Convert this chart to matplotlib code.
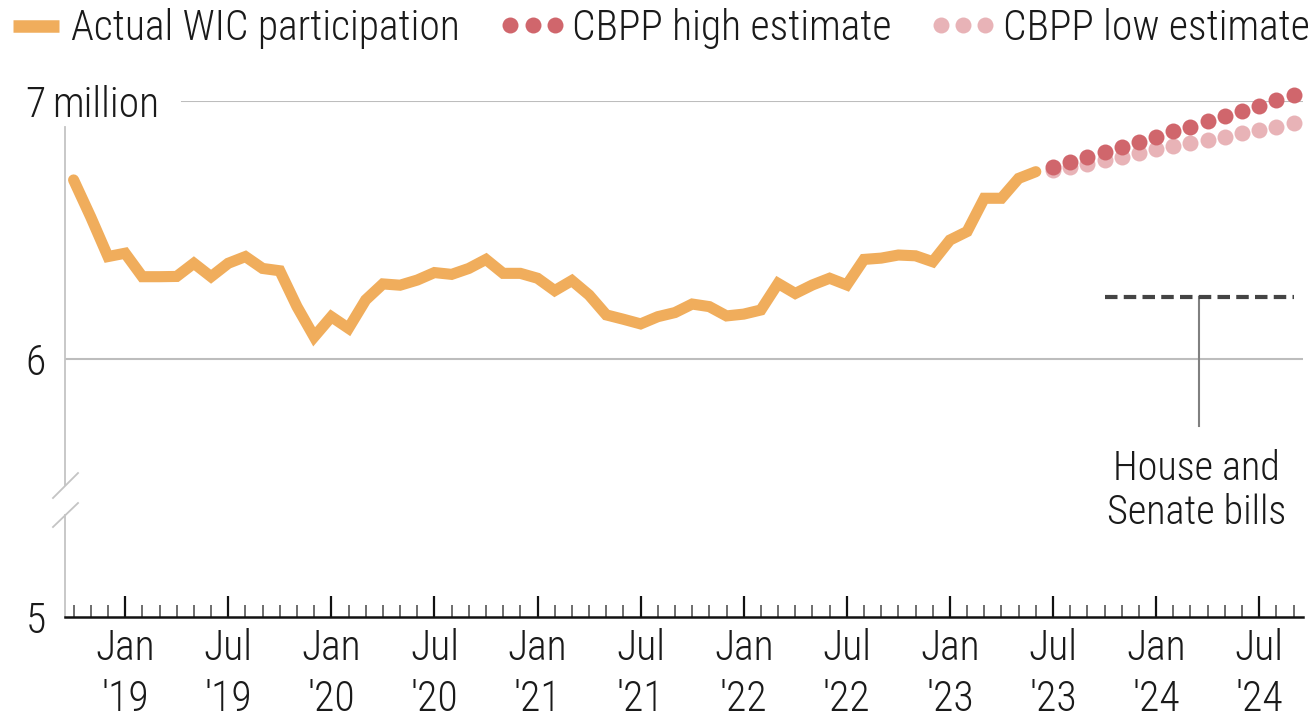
import numpy as np
import matplotlib
matplotlib.use("Agg")
import matplotlib.pyplot as plt
from matplotlib import font_manager
from matplotlib.lines import Line2D

# monthly WIC participation, millions, Oct 2018 .. Jun 2023
actual = [6.694, 6.55, 6.397,
          6.41, 6.319, 6.319, 6.32, 6.371, 6.319, 6.371, 6.397, 6.351, 6.342, 6.203, 6.086,
          6.164, 6.119, 6.229, 6.291, 6.286, 6.306, 6.335, 6.328, 6.351, 6.386, 6.332, 6.332,
          6.313, 6.265, 6.304, 6.248, 6.171, 6.154, 6.136, 6.164, 6.180, 6.213, 6.203, 6.167,
          6.174, 6.190, 6.293, 6.254, 6.287, 6.313, 6.287, 6.386, 6.391, 6.403, 6.400, 6.377,
          6.461, 6.494, 6.623, 6.623, 6.700, 6.726]
# CBPP projections, Jul 2023 .. Sep 2024
high_est = [6.743, 6.762, 6.782, 6.802, 6.821, 6.842, 6.862, 6.882, 6.900, 6.921,
            6.942, 6.963, 6.982, 7.003, 7.023]
low_est = [6.733, 6.743, 6.756, 6.771, 6.784, 6.797, 6.813, 6.826, 6.838, 6.849,
           6.862, 6.875, 6.888, 6.900, 6.914]
bills_level = 6.24
bills_months = [60, 71]  # Oct 2023 .. Sep 2024

tick_months = [3, 9, 15, 21, 27, 33, 39, 45, 51, 57, 63, 69]
tick_labels = ["Jan\n'19", "Jul\n'19", "Jan\n'20", "Jul\n'20", "Jan\n'21", "Jul\n'21",
               "Jan\n'22", "Jul\n'22", "Jan\n'23", "Jul\n'23", "Jan\n'24", "Jul\n'24"]
y_ticks = [5, 6, 7]

orange = "#F0AD5C"
red = "#D0666C"
pink = "#E8B3B7"
ink = "#1a1a1a"

names = {f.name for f in font_manager.fontManager.ttflist}
fam, fs = "Roboto", 26
for cand in ["Roboto Condensed", "Liberation Sans Narrow", "Open Sans Condensed"]:
    if cand in names:
        fam, fs = cand, 30
        break
plt.rcParams["font.family"] = [fam, "DejaVu Sans"]
plt.rcParams["font.weight"] = 300

W, H = 1315, 721
fig = plt.figure(figsize=(W / 100, H / 100), dpi=100)
ax = fig.add_axes([65 / W, (H - 617) / H, (1303 - 65) / W, (617 - 101) / H])

x_act = np.arange(len(actual))
x_est = np.arange(len(actual), len(actual) + len(high_est))

ax.axhline(6, color="#BDBDBD", lw=1.5, zorder=1)
ax.axhline(7, xmin=(182 - 65) / (1303 - 65), xmax=1, color="#BDBDBD", lw=1.5, zorder=1)

ax.plot(x_act, actual, color=orange, lw=8, solid_joinstyle="miter",
        solid_capstyle="round", zorder=3)
ax.plot(x_est, low_est, "o", color=pink, ms=11.5, mec="none", zorder=4, clip_on=False)
ax.plot(x_est, high_est, "o", color=red, ms=11.5, mec="none", zorder=5, clip_on=False)

ax.plot(bills_months, [bills_level] * 2, color="#444444", lw=3, dashes=(3, 1.5), zorder=3)
ax.plot([65.5, 65.5], [bills_level, 5.74], color="#808080", lw=1.5, zorder=2)
ax.text(65.35, 5.36, "House and\nSenate bills", ha="center", va="baseline",
        fontsize=fs - 1, color=ink, linespacing=1.2)

ax.set_xlim(-0.5, 71.55)
ax.set_ylim(5, 7)

ax.set_xticks(tick_months)
ax.set_xticklabels(tick_labels, linespacing=1.3)
ax.set_xticks(np.arange(0, 72), minor=True)
ax.tick_params(axis="x", which="major", direction="in", length=15, width=1.6,
               color="#111111", labelsize=fs, pad=8, labelcolor=ink)
ax.tick_params(axis="x", which="minor", direction="in", length=9, width=1.2, color="#555555")
ax.set_yticks(y_ticks)
ax.set_yticklabels([str(v) for v in y_ticks])
ax.tick_params(axis="y", length=0, pad=14, labelsize=fs, labelcolor=ink)
ax.annotate("million", xy=(0, 7), xycoords=("axes fraction", "data"),
            xytext=(-9, 0), textcoords="offset points", ha="left",
            va="center_baseline", fontsize=fs, color=ink)

for s in ["top", "right", "left"]:
    ax.spines[s].set_visible(False)
ax.spines["bottom"].set_linewidth(1.8)
ax.spines["bottom"].set_color("#111111")

# broken y axis
axis_kw = dict(transform=ax.transAxes, color="#C4C4C4", lw=1.3, clip_on=False)
ax.add_line(Line2D([0, 0], [0.9496, 0.2558], **axis_kw))
ax.add_line(Line2D([0, 0], [0.1977, 0], **axis_kw))
ax.add_line(Line2D([-0.0097, 0.0105], [0.2306, 0.279], **axis_kw))
ax.add_line(Line2D([-0.0097, 0.0105], [0.1744, 0.2209], **axis_kw))

# legend row drawn in pixel space
ov = fig.add_axes([0, 0, 1, 1], zorder=-1)
ov.set_xlim(0, W)
ov.set_ylim(H, 0)
ov.axis("off")
ov.plot([13, 59], [25.5, 25.5], color=orange, lw=9, solid_capstyle="butt")
ov.text(71, 40, "Actual WIC participation", fontsize=fs, va="baseline", color=ink)
ov.plot([510, 533, 555], [25, 25, 25], "o", color=red, ms=11.5, mec="none")
ov.text(572, 40, "CBPP high estimate", fontsize=fs, va="baseline", color=ink)
ov.plot([941, 963, 985], [25, 25, 25], "o", color=pink, ms=11.5, mec="none")
ov.text(1003, 40, "CBPP low estimate", fontsize=fs, va="baseline", color=ink)

fig.savefig("out.png", dpi=100)
